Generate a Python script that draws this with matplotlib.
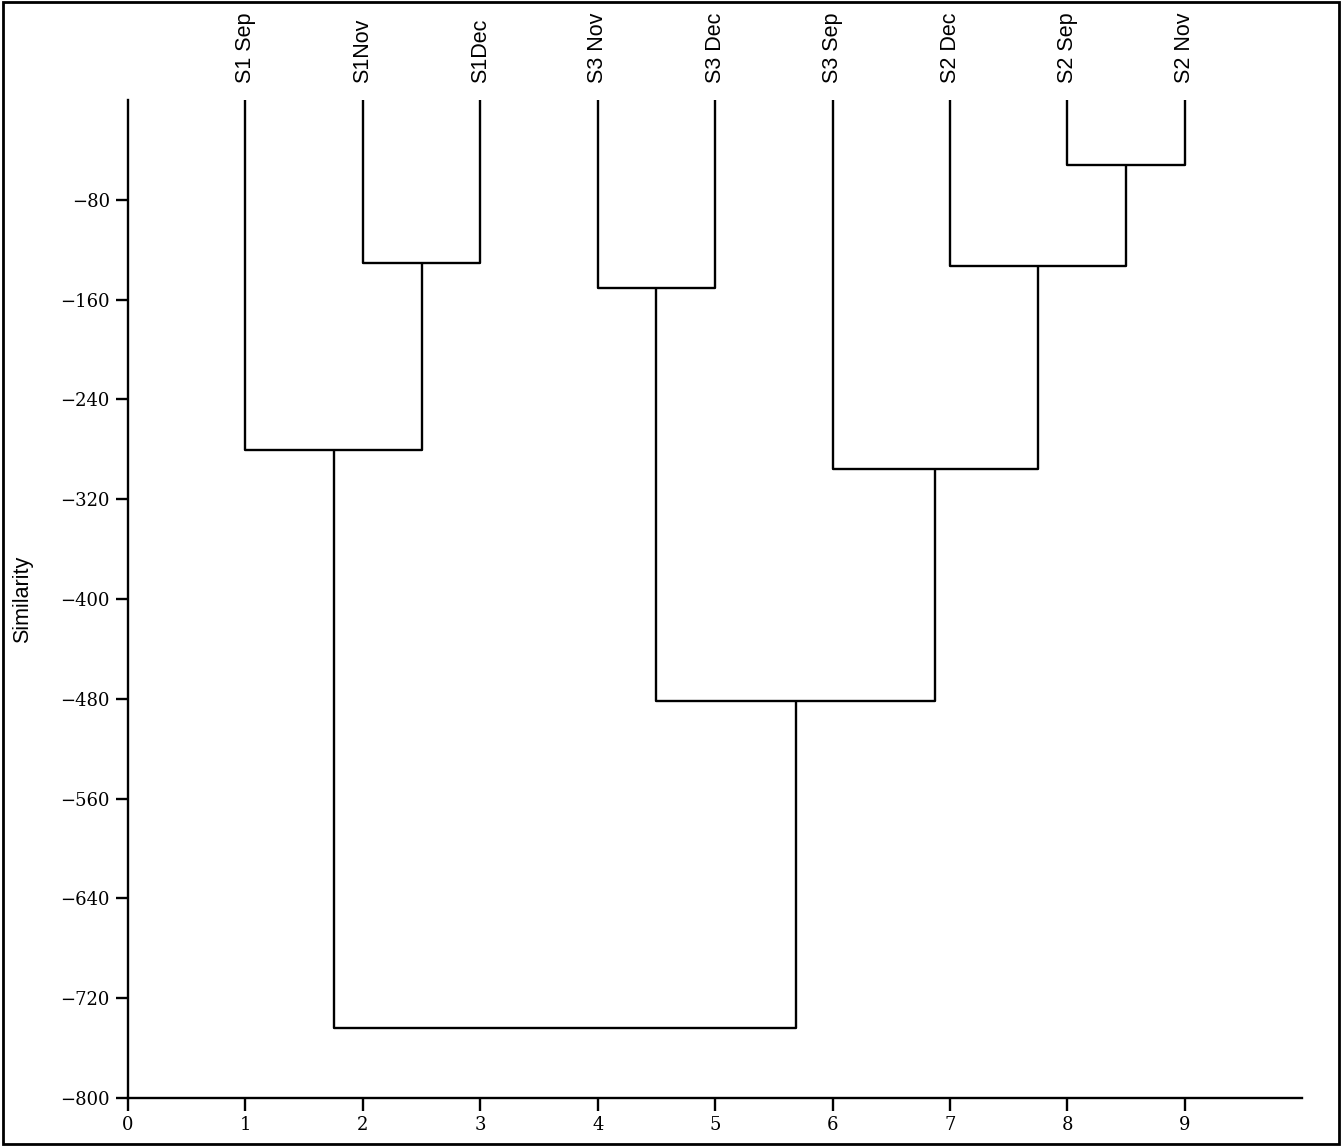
import numpy as np
import matplotlib.pyplot as plt
from matplotlib.patches import Rectangle

# leaf labels in drawing order (x = 1..9)
leaf_labels = ["S1 Sep", "S1Nov", "S1Dec", "S3 Nov", "S3 Dec",
               "S3 Sep", "S2 Dec", "S2 Sep", "S2 Nov"]
leaf_pos = [1, 2, 3, 4, 5, 6, 7, 8, 9]

# merges: cluster ids (leaves are 0..8, new clusters numbered from 9)
merge_a = [7, 1, 6, 3, 0, 5, 12, 13]
merge_b = [8, 2, 9, 4, 10, 11, 14, 15]
merge_height = [-52, -131, -133, -151, -281, -296, -482, -744]

yticks = [-800, -720, -640, -560, -480, -400, -320, -240, -160, -80]

fig = plt.figure(figsize=(13.42, 11.46), dpi=100)
ax = fig.add_axes([0.0954, 0.0419, 0.875, 0.8709])

xs = list(leaf_pos)
hs = [0.0] * len(leaf_pos)
for a, b, h in zip(merge_a, merge_b, merge_height):
    ax.plot([xs[a], xs[a], xs[b], xs[b]], [hs[a], h, h, hs[b]],
            color='black', lw=1.7, solid_capstyle='butt')
    xs.append((xs[a] + xs[b]) / 2)
    hs.append(h)

for x, lab in zip(leaf_pos, leaf_labels):
    ax.annotate(lab, (x, 0), xytext=(0, 12), textcoords='offset points',
                rotation=90, ha='center', va='bottom', fontsize=15.5,
                family='Liberation Sans', annotation_clip=False)

ax.set_xlim(0, 10)
ax.set_ylim(-800, 0)
ax.set_xticks(range(10))
ax.set_yticks(yticks)
for lbl in ax.get_xticklabels() + ax.get_yticklabels():
    lbl.set_family('DejaVu Serif')
    lbl.set_fontsize(13)
ax.tick_params(width=1.7, length=9, direction='out', pad=4)
ax.spines['top'].set_visible(False)
ax.spines['right'].set_visible(False)
ax.spines['left'].set_linewidth(1.7)
ax.spines['bottom'].set_linewidth(1.7)
ax.set_ylabel('Similarity', fontsize=15.5, family='Liberation Sans')
ax.yaxis.set_label_coords(-0.081, 0.5)

fig.patches.append(Rectangle((0.002, 0.002), 0.996, 0.996, transform=fig.transFigure,
                             fill=False, edgecolor='black', lw=2))

fig.savefig('out.png', dpi=100)
